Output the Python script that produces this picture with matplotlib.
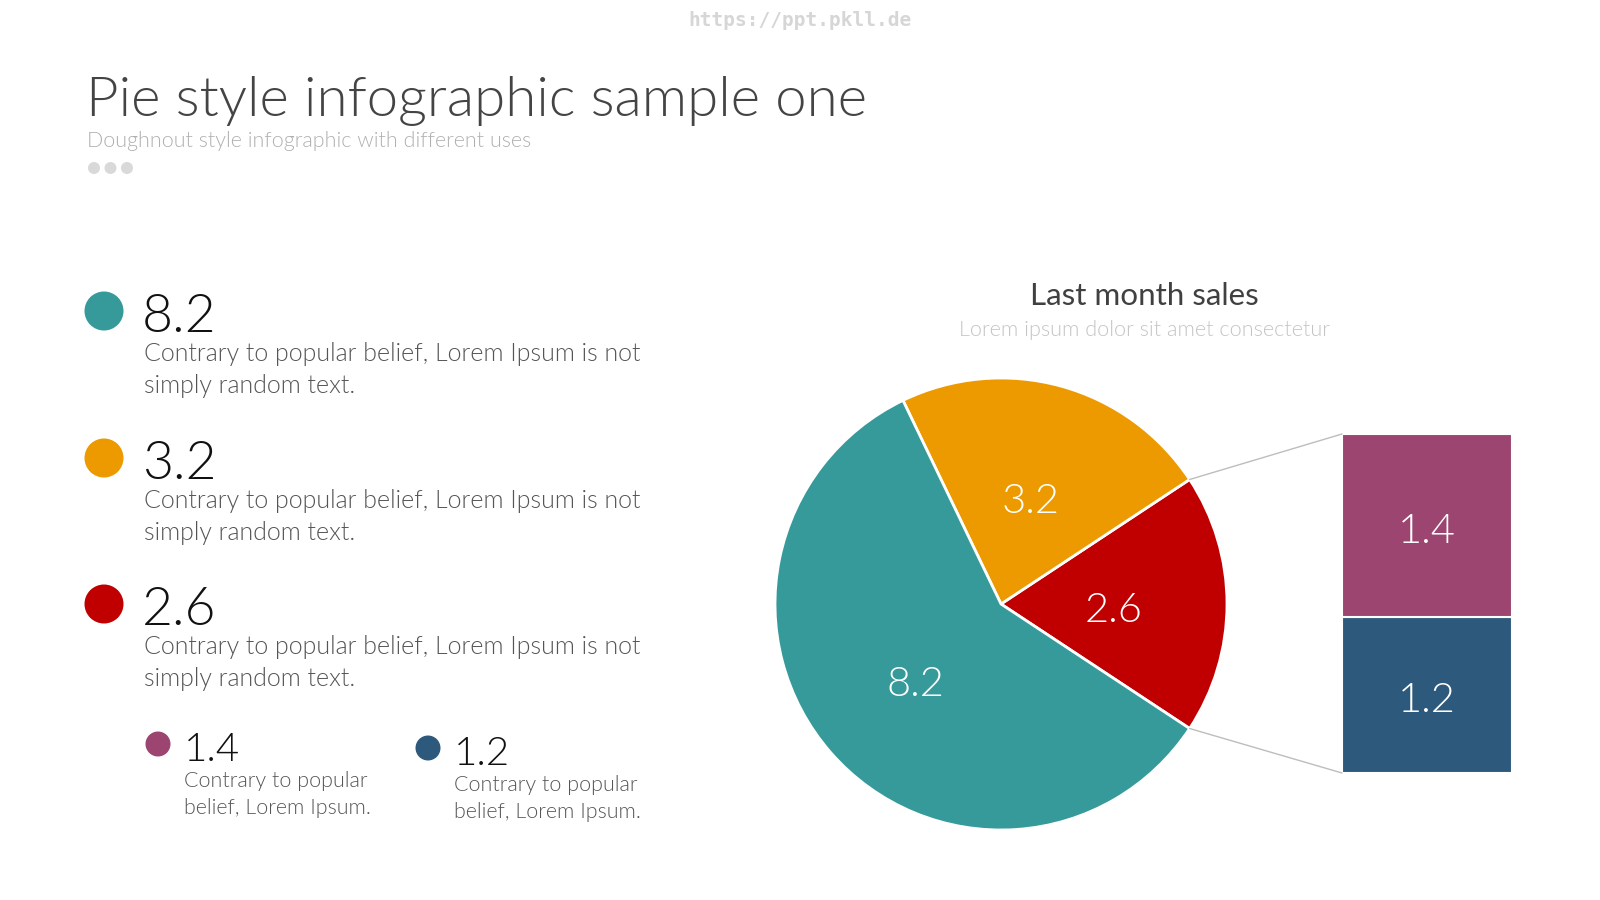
import matplotlib.pyplot as plt
from matplotlib.patches import Circle
from matplotlib.patches import ConnectionPatch
import numpy as np

# data
pie_labels = ['2.6', '3.2', '8.2']
pie_values = [2.6, 3.2, 8.2]
pie_colors = ['#c00000', '#ec9a00', '#369a9a']
bar_values = [1.2, 1.4]           # bottom to top
bar_colors = ['#2d5a7c', '#9c4570']

big_items = ['8.2', '3.2', '2.6']
big_colors = ['#369a9a', '#ec9a00', '#c00000']
small_items = ['1.4', '1.2']
small_colors = ['#9c4570', '#2d5a7c']

desc_lines = ['Contrary to popular belief, Lorem Ipsum is not', 'simply random text.']
small_desc = ['Contrary to popular', 'belief, Lorem Ipsum.']

FONT = 'Lato'
LIGHT = 300

fig = plt.figure(figsize=(16, 9), dpi=100)
fig.patch.set_facecolor('white')

# overlay in pixel coordinates
bg = fig.add_axes([0, 0, 1, 1])
bg.set_xlim(0, 1600)
bg.set_ylim(900, 0)
bg.axis('off')

bg.text(800, 21, 'https://ppt.pkll.de', ha='center', va='center', fontsize=14,
        family='DejaVu Sans Mono', weight='bold', color='#d6d6d6')

bg.text(86, 116, 'Pie style infographic sample one', ha='left', va='baseline',
        fontsize=40.6, family=FONT, weight=LIGHT, color='#444444')
bg.text(87, 141, 'Doughnout style infographic with different uses', ha='left', va='center',
        fontsize=15.5, family=FONT, weight=LIGHT, color='#b0b0b0')
for i in range(3):
    bg.add_patch(Circle((94 + 16.5 * i, 168), 6, color='#d9d9d9', lw=0))

# big legend items
for i, (lab, col) in enumerate(zip(big_items, big_colors)):
    y0 = 311 + i * 147 if i < 2 else 604
    bg.add_patch(Circle((104, y0), 19.5, color=col, lw=0))
    bg.text(142, y0 + 21, lab, ha='left', va='baseline', fontsize=38.5,
            family=FONT, weight=LIGHT, color='#111111')
    for k, line in enumerate(desc_lines):
        bg.text(144, y0 + 43 + k * 32, line, ha='left', va='center', fontsize=18,
                family=FONT, weight=LIGHT, color='#555555')

# small legend items
small_pos = [(158, 744), (428, 748)]
for (x0, y0), lab, col in zip(small_pos, small_items, small_colors):
    bg.add_patch(Circle((x0, y0), 12.5, color=col, lw=0))
    bg.text(x0 + 26, y0 + 17, lab, ha='left', va='baseline', fontsize=29,
            family=FONT, weight=LIGHT, color='#111111')
    for k, line in enumerate(small_desc):
        bg.text(x0 + 26, y0 + 37 + k * 27, line, ha='left', va='center', fontsize=15.5,
                family=FONT, weight=LIGHT, color='#555555')

# right side titles
bg.text(1144, 296, 'Last month sales', ha='center', va='center', fontsize=22.6,
        family=FONT, color='#404040')
bg.text(1144, 330, 'Lorem ipsum dolor sit amet consectetur', ha='center', va='center',
        fontsize=15.6, family=FONT, weight=LIGHT, color='#c4c4c4')

# pie
cx, cy, r = 1001, 604, 226
ax_pie = fig.add_axes([(cx - r) / 1600, (900 - cy - r) / 900, 2 * r / 1600, 2 * r / 900])
start = -180 * pie_values[0] / sum(pie_values)
total = sum(pie_values)
wedges, texts, autotexts = ax_pie.pie(
    pie_values, colors=pie_colors, startangle=start, radius=1,
    autopct=lambda p: f'{p * total / 100:.1f}', pctdistance=0.5,
    wedgeprops=dict(edgecolor='white', linewidth=2),
    textprops=dict(color='white', fontsize=30, family=FONT, weight=LIGHT))
for t in autotexts:
    x, y = t.get_position()
    t.set_position((x, y - 0.028))
ax_pie.set_xlim(-1, 1)
ax_pie.set_ylim(-1, 1)
ax_pie.axis('off')

# bar of pie
bx0, bx1, by0, by1 = 1342, 1512, 434, 773
ax_bar = fig.add_axes([bx0 / 1600, (900 - by1) / 900, (bx1 - bx0) / 1600, (by1 - by0) / 900])
bottom = 0
for v, c in zip(bar_values, bar_colors):
    ax_bar.bar(0, v, width=1, bottom=bottom, color=c, edgecolor='white', linewidth=1.5)
    ax_bar.text(0, bottom + v / 2 - 0.045, f'{v:.1f}', ha='center', va='center', color='white',
                fontsize=30, family=FONT, weight=LIGHT)
    bottom += v
ax_bar.set_xlim(-0.5, 0.5)
ax_bar.set_ylim(0, sum(bar_values))
ax_bar.axis('off')

# connectors
theta1, theta2 = wedges[0].theta1, wedges[0].theta2
for th, yb in [(theta2, sum(bar_values)), (theta1, 0)]:
    x = np.cos(np.radians(th))
    y = np.sin(np.radians(th))
    con = ConnectionPatch(xyA=(-0.5, yb), coordsA=ax_bar.transData,
                          xyB=(x, y), coordsB=ax_pie.transData,
                          color='#bdbdbd', linewidth=1)
    fig.add_artist(con)

fig.savefig('out.png', dpi=100, facecolor='white')
